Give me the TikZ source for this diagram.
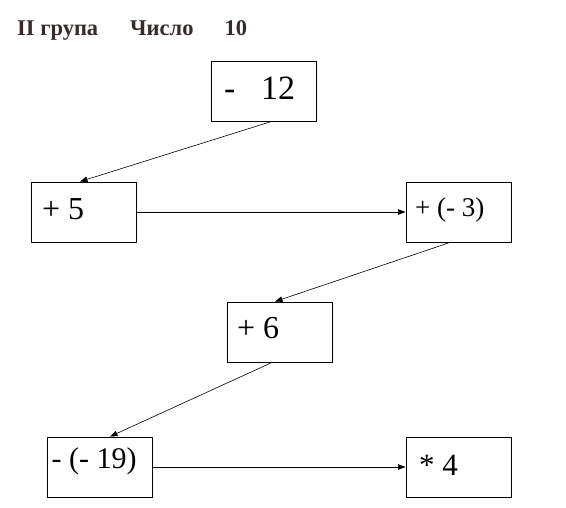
\documentclass[tikz,border=0pt]{standalone}
\usepackage{fontspec}
\setmainfont{Liberation Serif}
\usetikzlibrary{arrows.meta,positioning}
\definecolor{titlecol}{RGB}{55,42,42}
\begin{document}
\begin{tikzpicture}[x=1pt,y=-1pt,
    box/.style={draw,line width=0.9pt,minimum width=105pt,minimum height=60pt,inner sep=0pt},
    txt/.style={anchor=base west,inner sep=0pt,font=\fontsize{#1}{#1}\selectfont},
    conn/.style={draw,line width=0.6pt,-{Triangle[length=7.5pt,width=5.5pt]}}]
\useasboundingbox (0,0) rectangle (566,507);
\node[anchor=base west,inner sep=0pt,text=titlecol,font=\fontsize{22.5}{22.5}\selectfont\bfseries] (title) at (17,35) {II група\hspace{32pt}Число\hspace{31pt}10};
\node[box] (m12) at (263.5,91.5) {};
\node[box] (p5) at (84,212) {};
\node[box] (pm3) at (458.5,212) {};
\node[box] (p6) at (279.5,332) {};
\node[box] (mm19) at (99.5,467) {};
\node[box] (t4) at (458.5,467) {};
\node[txt=34] (lm12) at (224,99) {-\ \ \ 12};
\node[txt=32] (lp5) at (42,219) {+ 5};
\node[txt=27] (lpm3) at (415,216) {+ (- 3)};
\node[txt=32] (lp6) at (237,338) {+ 6};
\node[txt=30] (lmm19) at (51.5,468) {- (- 19)};
\node[txt=31] (lt4) at (419,475) {* 4};
\draw[conn] ([xshift=6.5]m12.south) -- ([xshift=-4]p5.north);
\draw[conn] (p5.east) -- (pm3.west);
\draw[conn] ([xshift=-8.5]pm3.south) -- ([xshift=-4.5]p6.north);
\draw[conn] ([xshift=-7.5]p6.south) -- ([xshift=10.5]mm19.north);
\draw[conn] (mm19.east) -- (t4.west);
\end{tikzpicture}
\end{document}
